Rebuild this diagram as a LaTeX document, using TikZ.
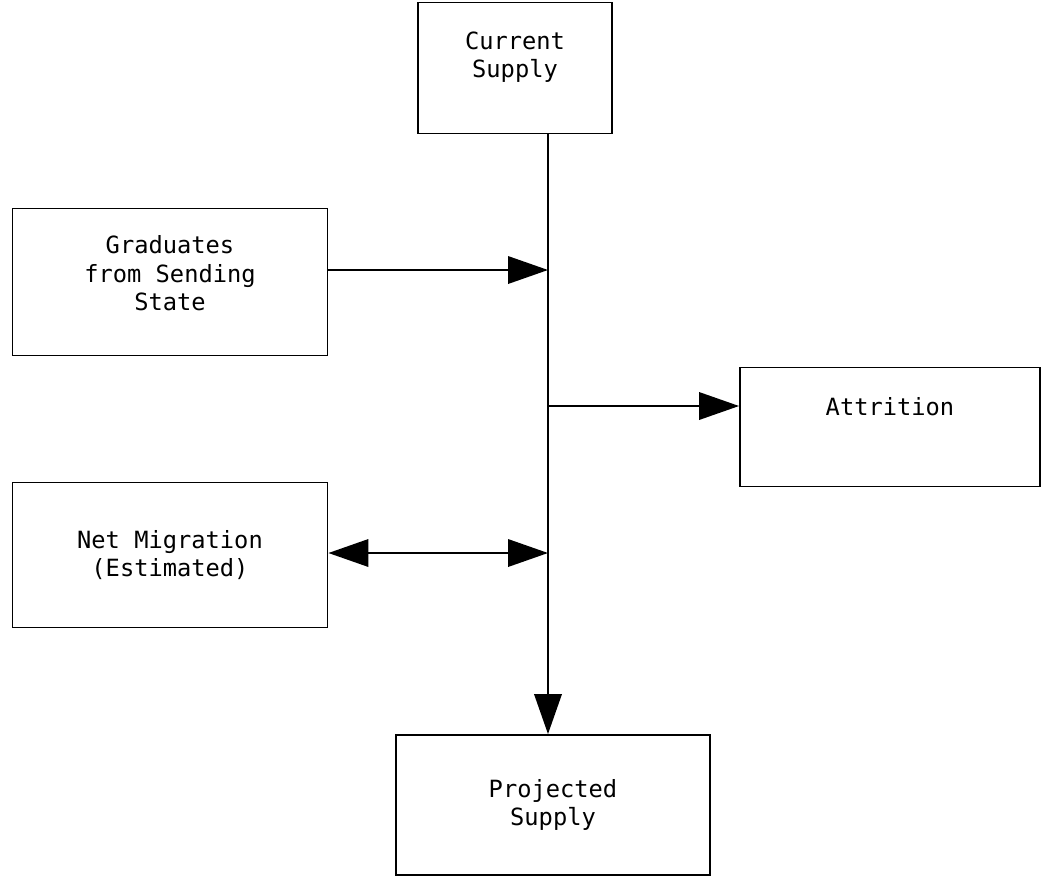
\documentclass[tikz,border=0pt]{standalone}
\usepackage{fontspec}
\setmonofont{DejaVu Sans Mono}
\usetikzlibrary{arrows.meta}

\tikzset{
  box/.style = {draw, line width=1.1pt, align=center,
                font=\ttfamily\fontsize{13.5}{16}\selectfont},
  flow/.style = {line width=1.1pt, -{Triangle[length=0.8cm,width=0.55cm]}},
  both/.style = {line width=1.1pt,
                 {Triangle[length=0.8cm,width=0.55cm]}-{Triangle[length=0.8cm,width=0.55cm]}}
}

\begin{document}
\begin{tikzpicture}[x=0.02cm,y=-0.02cm]
\useasboundingbox (0,0) rectangle (1042,877);
% boxes
\node[box, minimum width=3.88cm, minimum height=2.62cm, text depth=0.52cm] (current) at (515,68) {Current\\Supply};
\node[box, minimum width=6.3cm, minimum height=2.94cm, text depth=0.36cm] (grad) at (170,282) {Graduates\\from Sending\\State};
\node[box, minimum width=6.0cm, minimum height=2.38cm, text depth=0.84cm] (attr) at (890,427) {Attrition};
\node[box, minimum width=6.3cm, minimum height=2.9cm] (migr) at (170,555) {Net Migration\\(Estimated)};
\node[box, minimum width=6.28cm, minimum height=2.8cm] (proj) at (553,805) {Projected\\Supply};
% junctions on the main line
\coordinate (jg) at (548,270);
\coordinate (ja) at (548,406);
\coordinate (jm) at (548,553);
% connectors
\draw[flow] (jg |- current.south) -- (jg |- proj.north);
\draw[flow] (grad.east |- jg) -- (jg);
\draw[flow] (ja) -- (attr.west |- ja);
\draw[both] (migr.east |- jm) -- (jm);
\end{tikzpicture}
\end{document}
